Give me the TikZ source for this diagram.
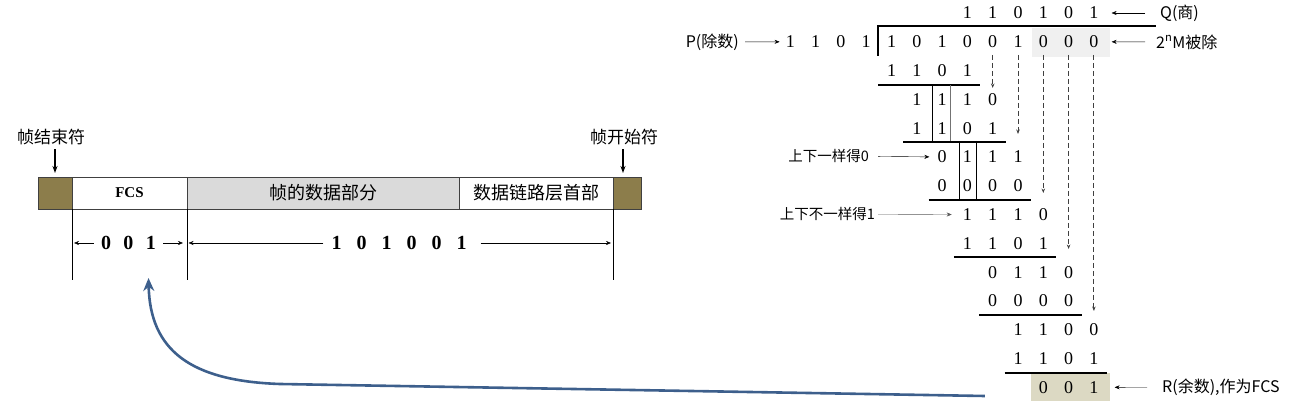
\documentclass[tikz,border=0pt]{standalone}
\usepackage{fontspec}
\setmainfont{Liberation Serif}
\newfontfamily\cjk{Noto Sans CJK SC}
\usetikzlibrary{arrows.meta,positioning}

\definecolor{frameolive}{HTML}{8C7D4B}
\definecolor{framegray}{HTML}{DADADA}
\definecolor{remtan}{HTML}{DCD9C3}
\definecolor{curveblue}{HTML}{3D5F8C}

% one row of the long division: name, row, first column, digits
\newcommand{\bitrow}[4]{%
  \foreach \b [count=\k from 0] in {#4}
    \node[bit] (#1-\k) at ({891.5+25.3*(#3+\k)},{13+28.8*#2}) {\b};}
% rule under a row: name, index of its last digit
\newcommand{\subline}[2]{%
  \draw[rule] ([xshift=-13.5pt,yshift=-14pt]#1-0.center) -- ([xshift=13pt,yshift=-14pt]#1-#2.center);}
\newcommand{\gap}{\hspace{0.62em}}

\begin{document}
\begin{tikzpicture}[
   x=1pt,y=-1pt,
   >={Stealth[length=5pt,width=4pt]},
   box/.style={draw=black!75,minimum height=32pt,inner sep=0pt,outer sep=0pt,
               font=\cjk\fontsize{18}{20}\selectfont},
   flag/.style={box,fill=frameolive},
   tag/.style={font=\cjk\fontsize{17}{19}\selectfont,inner sep=1pt},
   note/.style={font=\cjk\fontsize{14.5}{16}\selectfont,inner sep=1pt},
   symb/.style={note,font=\cjk\fontsize{16}{18}\selectfont},
   bit/.style={inner sep=0pt,font=\fontsize{18}{20}\selectfont},
   dimbits/.style={inner sep=2pt,font=\bfseries\fontsize{20}{22}\selectfont},
   rule/.style={line width=2pt},
   colline/.style={line width=0.9pt},
   pt/.style={->,thin},
   drop/.style={-{Stealth[length=7pt,width=5pt]},line width=1.4pt},
   ext/.style={line width=0.8pt},
   bring/.style={-{Stealth[length=4.5pt,width=3.5pt]},black!75,line width=0.9pt,
                 dash pattern=on 5pt off 3pt},
   feed/.style={-{Stealth[length=13pt,width=11pt]},curveblue,line width=2.6pt},
   remshade/.style={fill=remtan,minimum width=79pt,minimum height=28pt,inner sep=0pt}
  ]
  \useasboundingbox (0,0) rectangle (1307,411);

  % frame
  \node[flag,minimum width=34pt,anchor=north west] (eof) at (38,177) {};
  \node[box,minimum width=115pt,right=0pt of eof,
        font=\bfseries\fontsize{15}{17}\selectfont] (fcs) {FCS};
  \node[box,fill=framegray,minimum width=272pt,right=0pt of fcs] (data) {帧的数据部分};
  \node[box,minimum width=154pt,right=0pt of data] (hdr) {数据链路层首部};
  \node[flag,minimum width=28pt,right=0pt of hdr] (sof) {};

  \node[tag] (eoftag) at (51,137) {帧结束符};
  \node[tag] (softag) at (624,137) {帧开始符};
  \draw[drop,shorten <=3pt,shorten >=4pt] (eof.north |- eoftag.south) -- (eof.north);
  \draw[drop,shorten <=3pt,shorten >=4pt] ([xshift=-4pt]sof.north |- softag.south) -- ([xshift=-4pt]sof.north);

  \draw[ext] (fcs.south west) -- ++(0,71);
  \draw[ext] (fcs.south east) -- ++(0,71);
  \draw[ext] (hdr.south east) -- ++(0,71);

  \node[dimbits] (fcsbits) at (128.5,243) {0\gap0\gap1};
  \node[dimbits] (databits) at (399,243) {1\hspace{0.75em}0\hspace{0.75em}1\hspace{0.75em}0\hspace{0.75em}0\hspace{0.75em}1};
  \draw[pt,shorten <=5pt,shorten >=2pt] (fcsbits.west) -- (fcsbits.west -| fcs.west);
  \draw[pt,shorten <=5pt,shorten >=4pt] (fcsbits.east) -- (fcsbits.east -| fcs.east);
  \draw[pt,shorten <=6pt,shorten >=1.5pt] (databits.west) -- (databits.west -| fcs.east);
  \draw[pt,shorten <=12pt,shorten >=2pt] (databits.east) -- (databits.east -| hdr.east);

  % long division
  \fill[black!6] (1032,28) rectangle (1110,57);
  \node[remshade] (rem) at (1070.5,387) {};

  \bitrow{q}{0}{3}{1,1,0,1,0,1}
  \bitrow{p}{1}{-4}{1,1,0,1}
  \bitrow{m}{1}{0}{1,0,1,0,0,1,0,0,0}
  \bitrow{r2}{2}{0}{1,1,0,1}
  \bitrow{r3}{3}{1}{1,1,1,0}
  \bitrow{r4}{4}{1}{1,1,0,1}
  \bitrow{r5}{5}{2}{0,1,1,1}
  \bitrow{r6}{6}{2}{0,0,0,0}
  \bitrow{r7}{7}{3}{1,1,1,0}
  \bitrow{r8}{8}{3}{1,1,0,1}
  \bitrow{r9}{9}{4}{0,1,1,0}
  \bitrow{r10}{10}{4}{0,0,0,0}
  \bitrow{r11}{11}{5}{1,1,0,0}
  \bitrow{r12}{12}{5}{1,1,0,1}
  \bitrow{r13}{13}{6}{0,0,1}

  \draw[rule] (878,56) -- (878,26) -- (1156,26);
  \subline{r2}{3}
  \subline{r4}{3}
  \subline{r6}{3}
  \subline{r8}{3}
  \subline{r10}{3}
  \subline{r12}{3}

  \draw[colline] (932,85) -- (932,141);
  \draw[colline,black!55] (950,85) -- (950,141);
  \draw[colline] (959,141) -- (959,199);
  \draw[colline] (976,141) -- (976,199);

  \foreach \c/\e in {4/88,5/134,6/193,7/249,8/311}
    \draw[bring] ([yshift=-13pt]m-\c.center) -- (m-\c.center |- 0,\e);

  \node[symb,anchor=west] (qtag) at (1159,13) {Q(商)};
  \node[symb,anchor=west] (mtag) at (1155,42) {2\textsuperscript{n}M被除};
  \node[symb,anchor=west] (rtag) at (1161,387) {R(余数),作为FCS};
  \node[symb,anchor=east] (ptag) at (740,42) {P(除数)};
  \node[note,anchor=east] (sametag) at (870,156) {上下一样得0};
  \node[note,anchor=east] (difftag) at (876,214) {上下不一样得1};

  \draw[pt,shorten <=14pt,shorten >=13pt] (qtag) -- (q-5);
  \draw[pt,shorten <=10pt,shorten >=13pt] (mtag) -- (m-8);
  \draw[pt,shorten <=14pt,shorten >=16pt] (rtag) -- (r13-2);
  \draw[pt,shorten <=5pt,shorten >=6pt] (ptag) -- (p-0);
  \draw[pt,shorten <=8pt,shorten >=8pt] (sametag) -- (r5-0);
  \draw[pt,black!65,shorten <=2pt,shorten >=11pt] (difftag) -- (r7-0);

  % remainder carried back into the frame
  \coordinate (cstart) at ([xshift=-46pt,yshift=-9pt]rem.west);
  \coordinate (ctip) at ([xshift=20pt,yshift=-35pt]fcsbits.center);
  \draw[feed] (cstart) -- (280,384) .. controls (190,381) and (150,350) .. (ctip);
\end{tikzpicture}
\end{document}
